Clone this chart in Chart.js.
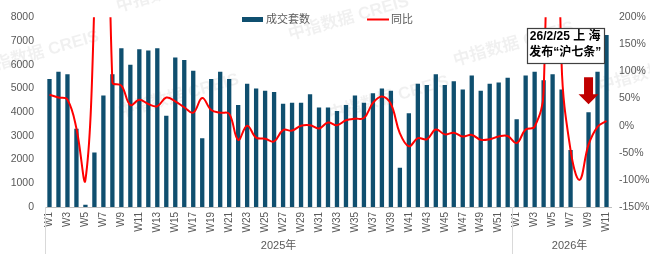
<!DOCTYPE html>
<html>
<head>
<meta charset="utf-8">
<script src="https://cdn.jsdelivr.net/npm/chart.js@4.4.1/dist/chart.umd.min.js"></script>
<style>
  html, body { margin: 0; padding: 0; background: #fff; }
  #wrap { width: 650px; height: 257px; position: relative; }
</style>
</head>
<body>
<div id="wrap"><canvas id="chart"></canvas></div>
<script>
const weeks2025 = ['W1','W2','W3','W4','W5','W6','W7','W8','W9','W10','W11','W12','W13','W14','W15','W16','W17','W18','W19','W20','W21','W22','W23','W24','W25','W26',
  'W27','W28','W29','W30','W31','W32','W33','W34','W35','W36','W37','W38','W39','W40','W41','W42','W43','W44','W45','W46','W47','W48','W49','W50','W51','W52'];
const weeks2026 = ['W1','W2','W3','W4','W5','W6','W7','W8','W9','W10','W11'];
const yearLabels = ['2025年', '2026年'];

// 成交套数
const deals2025 = [5400, 5700, 5600, 3300, 100, 2300, 4700, 5600, 6700, 6000, 6650, 6600, 6700, 3850, 6300, 6200, 5750, 2900, 5400, 5700, 5400, 4300, 5200, 5000, 4900, 4850,
  4350, 4400, 4400, 4750, 4200, 4200, 4050, 4300, 4700, 4400, 4800, 5000, 4900, 1650, 3950, 5200, 5150, 5600, 5150, 5300, 4950, 5550, 4900, 5200, 5250, 5450];
const deals2026 = [3700, 5550, 5700, 5350, 5600, 4950, 2400, 0, 4000, 5700, 7250];

// 同比 (%)
const yoy2025 = [57, 52, 48, -5, -100, 230, 1000, 80, 74, 38, 48, 40, 36, 52, 45, 34, 24, 51, 29, 24, 22, -26, 0, -22, -24, -29,
  -8, -9, 0, 1, -5, 6, 1, 10, 13, 14, 42, 54, 40, -14, -38, -23, -25, -7, -16, -13, -20, -17, -26, -25, -20, -19];
const yoy2026 = [-32, -7, -2, 62, 1000, 115, -45, -100, -35, -2, 9];

const labels = weeks2025.concat(weeks2026);
const deals = deals2025.concat(deals2026);
const yoy = yoy2025.concat(yoy2026);

const BAR = '#0f4f6f';
const RED = '#ff0000';
const TXT = '#595959';
const FONT = '"Liberation Sans", "Noto Sans CJK SC", sans-serif';

const extras = {
  id: 'extras',
  beforeDatasetsDraw(chart) {
    const ctx = chart.ctx;
    ctx.save();
    ctx.fillStyle = 'rgba(0,0,0,0.06)';
    ctx.font = 'bold 17px ' + FONT;
    const marks = [[-20, 75], [118, 12], [290, 40], [120, 118], [455, 66], [330, 120], [600, 92]];
    marks.forEach(([x, y]) => {
      ctx.save();
      ctx.translate(x, y);
      ctx.rotate(-0.28);
      ctx.fillText('中指数据 CREIS', 0, 0);
      ctx.restore();
    });
    ctx.restore();
  },
  afterDraw(chart) {
    const ctx = chart.ctx;
    const xs = chart.scales.x;
    const yl = chart.scales.y;
    const area = chart.chartArea;
    ctx.save();

    // legend
    ctx.font = '11px ' + FONT;
    ctx.textBaseline = 'middle';
    ctx.fillStyle = BAR;
    ctx.fillRect(242, 17, 21, 5);
    ctx.fillStyle = TXT;
    ctx.fillText('成交套数', 266, 20);
    ctx.strokeStyle = RED;
    ctx.lineWidth = 2;
    ctx.beginPath();
    ctx.moveTo(367, 19.5);
    ctx.lineTo(389, 19.5);
    ctx.stroke();
    ctx.fillText('同比', 391, 20);

    // year group separators and labels
    const split = xs.getPixelForValue(weeks2025.length - 0.5);
    ctx.strokeStyle = '#d9d9d9';
    ctx.lineWidth = 1;
    [area.left, split].forEach(x => {
      ctx.beginPath();
      ctx.moveTo(Math.round(x) + 0.5, area.bottom);
      ctx.lineTo(Math.round(x) + 0.5, 254);
      ctx.stroke();
    });
    ctx.fillStyle = TXT;
    ctx.textAlign = 'center';
    ctx.font = '11px ' + FONT;
    ctx.fillText(yearLabels[0], (area.left + split) / 2, 246);
    ctx.fillText(yearLabels[1], (split + area.right) / 2 + 8, 246);

    // annotation box
    const bx = xs.getPixelForValue(weeks2025.length + 5.4);
    const bw = 77, bh = 35, by = 28;
    ctx.fillStyle = '#ffffff';
    ctx.fillRect(bx - bw / 2, by, bw, bh);
    ctx.strokeStyle = '#404040';
    ctx.lineWidth = 1.2;
    ctx.strokeRect(Math.round(bx - bw / 2) + 0.5, by + 0.5, bw, bh);
    ctx.fillStyle = '#000000';
    ctx.font = 'bold 12px ' + FONT;
    ctx.fillText('26/2/25 上 海', bx, by + 9);
    ctx.fillText('发布“沪七条”', bx, by + 25);

    // red arrow above 2026 W9 bar
    const ai = weeks2025.length + 8;
    const ax = xs.getPixelForValue(ai);
    const tip = yl.getPixelForValue(deals[ai]) - 8;
    ctx.fillStyle = '#c00000';
    ctx.beginPath();
    ctx.moveTo(ax - 4.5, tip - 27);
    ctx.lineTo(ax + 4.5, tip - 27);
    ctx.lineTo(ax + 4.5, tip - 10);
    ctx.lineTo(ax + 10, tip - 10);
    ctx.lineTo(ax, tip);
    ctx.lineTo(ax - 10, tip - 10);
    ctx.lineTo(ax - 4.5, tip - 10);
    ctx.closePath();
    ctx.fill();
    ctx.restore();
  }
};

new Chart(document.getElementById('chart'), {
  data: {
    labels: labels,
    datasets: [
      {
        type: 'line',
        label: '同比',
        data: yoy,
        yAxisID: 'y1',
        borderColor: RED,
        borderWidth: 2,
        pointRadius: 0,
        tension: 0.4,
        order: 0
      },
      {
        type: 'bar',
        label: '成交套数',
        data: deals,
        yAxisID: 'y',
        backgroundColor: BAR,
        categoryPercentage: 1,
        barPercentage: 0.48,
        order: 1
      }
    ]
  },
  options: {
    responsive: true,
    maintainAspectRatio: false,
    animation: false,
    layout: { padding: { top: 13, left: 0, right: 0, bottom: 0 } },
    plugins: { legend: { display: false }, tooltip: { enabled: false } },
    scales: {
      x: {
        grid: { display: false, drawTicks: false },
        border: { display: true, color: '#bfbfbf', width: 1 },
        ticks: {
          autoSkip: false,
          maxRotation: 90,
          minRotation: 90,
          padding: 5,
          color: TXT,
          font: { size: 10, family: FONT },
          callback(v) {
            const l = this.getLabelForValue(v);
            return parseInt(l.slice(1)) % 2 === 1 ? l : '';
          }
        },
        afterFit(s) { s.height = 50; }
      },
      y: {
        position: 'left',
        min: 0,
        max: 8000,
        grid: { display: false, drawTicks: false },
        border: { display: false },
        ticks: { stepSize: 1000, padding: 11, color: TXT, font: { size: 10.5, family: FONT }, callback: v => String(v) },
        afterFit(s) { s.width = 45; }
      },
      y1: {
        position: 'right',
        min: -150,
        max: 200,
        grid: { display: false, drawTicks: false },
        border: { display: false },
        ticks: { stepSize: 50, padding: 8, color: TXT, font: { size: 10.5, family: FONT }, callback: v => v + '%' },
        afterFit(s) { s.width = 39; }
      }
    }
  },
  plugins: [extras]
});
</script>
</body>
</html>
